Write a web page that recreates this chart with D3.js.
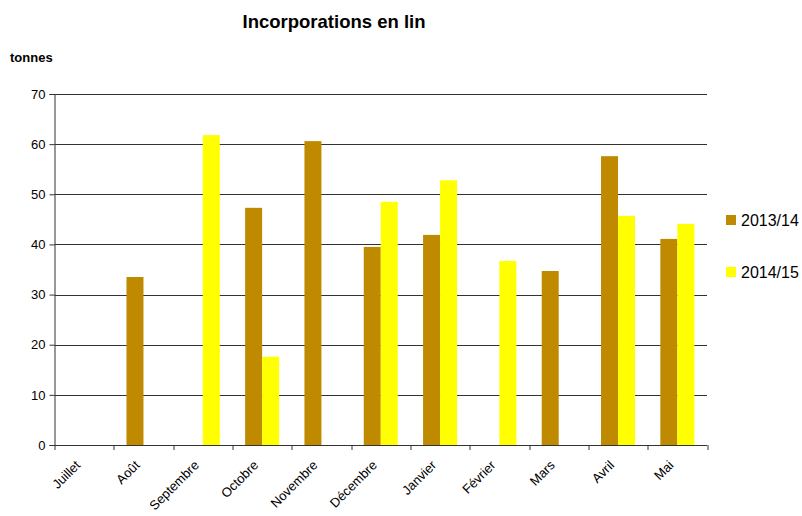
<!DOCTYPE html>
<html>
<head>
<meta charset="utf-8">
<script src="https://cdn.jsdelivr.net/npm/d3@7"></script>
<style>
  body { margin: 0; background: #fff; }
  text { font-family: 'Liberation Sans', Arial, sans-serif; }
</style>
</head>
<body>
<div id="container"></div>
<script>
const months = ['Juillet', 'Août', 'Septembre', 'Octobre', 'Novembre', 'Décembre', 'Janvier', 'Février', 'Mars', 'Avril', 'Mai'];
const seriesNames = ['2013/14', '2014/15'];
const values1314 = [0, 33.5, 0, 47.3, 60.6, 39.5, 41.9, 0, 34.7, 57.6, 41.1];
const values1415 = [0, 0, 61.8, 17.6, 0, 48.5, 52.8, 36.7, 0, 45.7, 44.1];
const yTicks = [0, 10, 20, 30, 40, 50, 60, 70];
const colors = ['#bf8a00', '#ffff00'];

const W = 802, H = 516;
const margin = { top: 94, left: 54.5, right: 95, bottom: 71 };
const width = W - margin.left - margin.right;
const height = H - margin.top - margin.bottom;

const svg = d3.select('#container').append('svg')
  .attr('width', W)
  .attr('height', H);

const g = svg.append('g')
  .attr('transform', `translate(${margin.left}, ${margin.top})`);

const x0 = d3.scaleBand().domain(months).range([0, width])
  .paddingInner(0.427).paddingOuter(0.2135);
const x1 = d3.scaleBand().domain(seriesNames).range([0, x0.bandwidth()]);
const y = d3.scaleLinear().domain([0, 70]).range([height, 0]);

// gridlines
g.append('g').selectAll('line')
  .data(yTicks.slice(1)).enter()
  .append('line')
  .attr('x1', 0).attr('x2', width)
  .attr('y1', (d) => Math.round(y(d)) + 0.5)
  .attr('y2', (d) => Math.round(y(d)) + 0.5)
  .attr('stroke', '#333')
  .attr('stroke-width', 1);

const table = months.map((m, i) => ({ month: m, vals: [values1314[i], values1415[i]] }));

const groups = g.append('g').selectAll('g')
  .data(table).enter()
  .append('g')
  .attr('transform', (d) => `translate(${x0(d.month)}, 0)`);

groups.selectAll('rect')
  .data((d) => d.vals.map((v, j) => ({ key: seriesNames[j], v: v, c: colors[j] })))
  .enter()
  .append('rect')
  .attr('x', (d) => x1(d.key))
  .attr('y', (d) => y(d.v))
  .attr('width', x1.bandwidth())
  .attr('height', (d) => height - y(d.v))
  .attr('fill', (d) => d.c);

// y axis
const yAxis = g.append('g')
  .call(d3.axisLeft(y).tickValues(yTicks).tickSize(5).tickPadding(4));
yAxis.selectAll('text').style('font-size', '13px').attr('fill', '#000');
yAxis.selectAll('line, path').attr('stroke', '#333');

// x axis: ticks at band boundaries
const xAxis = g.append('g').attr('transform', `translate(0, ${height})`);
xAxis.append('line')
  .attr('x1', 0).attr('x2', width)
  .attr('y1', 0.5).attr('y2', 0.5)
  .attr('stroke', '#333');
const bounds = months.map((m) => x0(m) - x0.step() * x0.paddingOuter());
bounds.push(width);
xAxis.selectAll('.tick')
  .data(bounds).enter()
  .append('line')
  .attr('x1', (d) => Math.round(d) + 0.5).attr('x2', (d) => Math.round(d) + 0.5)
  .attr('y1', 0).attr('y2', 5)
  .attr('stroke', '#333');
xAxis.selectAll('.lbl')
  .data(months).enter()
  .append('text')
  .attr('transform', (d) => `translate(${x0(d) + x0.bandwidth() / 2 - 3}, 21) rotate(-45)`)
  .attr('text-anchor', 'end')
  .style('font-size', '13px')
  .text((d) => d);

// title
svg.append('text')
  .attr('x', 334).attr('y', 28)
  .attr('text-anchor', 'middle')
  .style('font-size', '18.5px')
  .style('font-weight', 'bold')
  .text('Incorporations en lin');

svg.append('text')
  .attr('x', 10).attr('y', 62)
  .style('font-size', '13px')
  .style('font-weight', 'bold')
  .text('tonnes');

// legend
const legend = svg.append('g').selectAll('g')
  .data(seriesNames).enter()
  .append('g')
  .attr('transform', (d, i) => `translate(726, ${215 + i * 52})`);
legend.append('rect')
  .attr('width', 10).attr('height', 10)
  .attr('fill', (d, i) => colors[i]);
legend.append('text')
  .attr('x', 15).attr('y', 11)
  .style('font-size', '16px')
  .text((d) => d);
</script>
</body>
</html>
